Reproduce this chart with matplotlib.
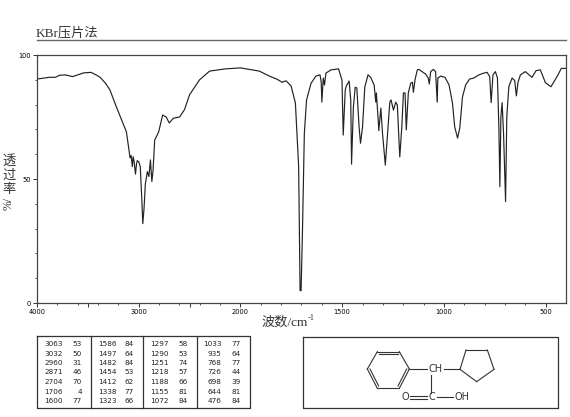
import numpy as np
import matplotlib
matplotlib.use('Agg')
from matplotlib import pyplot as plt

plt.rcParams['font.family'] = ['Liberation Serif', 'Noto Sans CJK SC', 'DejaVu Sans']

# spectrum
wn = [4000, 3950, 3880, 3820, 3780, 3725, 3650, 3600, 3540, 3470, 3420, 3380, 3330, 3284, 3219, 3170, 3121, 3100,
      3085, 3075, 3068, 3063, 3055, 3045, 3032, 3022, 3015, 3000, 2985, 2970, 2960, 2948, 2935, 2915, 2900, 2885,
      2875, 2871, 2860, 2843, 2804, 2765, 2730, 2700, 2660, 2598, 2550, 2500, 2402, 2304, 2150, 2000, 1907,
      1858, 1819, 1796, 1776, 1751, 1730, 1714, 1707, 1702, 1695, 1686, 1675, 1653, 1629, 1609, 1603, 1600, 1593,
      1587, 1580, 1555, 1518, 1501, 1495, 1485, 1480, 1466, 1458, 1454, 1445, 1436, 1428, 1417, 1410, 1400, 1389,
      1373, 1360, 1343, 1335, 1332, 1323, 1320, 1310, 1302, 1288, 1278, 1266, 1260, 1248, 1237, 1229, 1217, 1207,
      1199, 1191, 1185, 1175, 1163, 1155, 1150, 1142, 1131, 1123, 1090, 1077, 1072, 1065, 1052, 1041, 1033, 1030,
      1016, 995, 975, 958, 947, 933, 922, 909, 893, 874, 853, 828, 804, 788, 775, 768, 759, 747, 737, 730, 725,
      720, 714, 707, 697, 691, 681, 665, 652, 644, 636, 624, 600, 567, 547, 526, 501, 474, 444, 423, 403]
trans = [90.3, 90.6, 91, 91, 91.8, 92, 91.3, 92, 92.8, 93, 92, 91, 88.8, 86, 79, 74, 69, 63,
         58.5, 59.5, 57, 55, 59, 57, 52, 56, 57.4, 57, 55, 42, 32, 38, 48, 53, 51, 57.7,
         51, 49, 53, 65.7, 69, 75.8, 75, 72.6, 74.5, 75, 78, 84, 90, 93.5, 94.4, 94.8, 93.5,
         91.5, 90.2, 89, 89.6, 87.5, 80.6, 55, 5, 5, 30, 68.5, 81.9, 88.6, 91.5, 92, 89, 81, 90.7,
         87.9, 92.7, 94, 94.4, 89.9, 67.7, 85.9, 87.5, 89.5, 81.9, 56, 79, 87, 86.7, 71, 64.4, 71, 87,
         92, 91, 87.9, 81, 84.7, 73.8, 69.5, 78.6, 68.5, 55.6, 67, 81, 81.9, 77.8, 81, 79.8, 58.9, 71,
         84.7, 84.7, 69.8, 84.7, 88.7, 89, 85, 90, 94, 94.2, 92.3, 90.7, 88.3, 93.3, 94.2, 93.3, 81, 90.7,
         91.5, 91, 88, 80.6, 71, 66.5, 70.6, 83, 88, 90.3, 90.7, 92, 92.7, 93, 91.3, 80.8, 92, 93.3, 90.7, 71, 46.9,
         75, 80.8, 68.5, 40.9, 75, 87.2, 90.7, 89.7, 83.5, 89, 92, 93.3, 91, 93.7, 94, 88.8, 87.2, 91.3, 94.6, 94.6]

# peak table
col1_wn = [3063, 3032, 2960, 2871, 2704, 1706, 1600]
col1_t = [53, 50, 31, 46, 70, 4, 77]
col2_wn = [1586, 1497, 1482, 1454, 1412, 1338, 1323]
col2_t = [84, 64, 84, 53, 62, 77, 66]
col3_wn = [1297, 1290, 1251, 1218, 1188, 1155, 1072]
col3_t = [58, 53, 74, 57, 66, 81, 84]
col4_wn = [1033, 935, 768, 726, 698, 644, 476]
col4_t = [77, 64, 77, 44, 39, 81, 84]

x_labels = [4000, 3000, 2000, 1500, 1000, 500]
x_major = [4000, 3500, 3000, 2500, 2000, 1500, 1000, 500]
x_minor = list(range(3800, 2000, -200)) + list(range(1900, 400, -100))
y_labels = [0, 50, 100]
y_minor = [10, 20, 30, 40, 60, 70, 80, 90]


# chart is squeezed 2:1 above 2000 cm-1
def forward(x):
    x = np.asarray(x, dtype=float)
    return np.where(x > 2000, 2000 + (x - 2000) / 2, x)


def inverse(x):
    x = np.asarray(x, dtype=float)
    return np.where(x > 2000, 2000 + (x - 2000) * 2, x)


fig = plt.figure(figsize=(5.7, 4.17), dpi=100)
ax = fig.add_axes([37 / 570, 1 - 303 / 417, 529 / 570, 248 / 417])
ax.set_xscale('function', functions=(forward, inverse))
ax.plot(wn, trans, color='#222222', lw=0.85)
ax.set_xlim(4000, 400)
ax.set_ylim(0, 100)

ax.set_xticks(x_major)
ax.set_xticklabels([str(v) if v in x_labels else '' for v in x_major], family='DejaVu Sans', fontsize=4.8)
ax.set_xticks(x_minor, minor=True)
ax.set_yticks(y_labels)
ax.set_yticklabels([str(v) for v in y_labels], family='DejaVu Sans', fontsize=4.8)
ax.set_yticks(y_minor, minor=True)
ax.tick_params(axis='both', which='major', length=3, width=0.7, color='#333333', pad=1.5)
ax.tick_params(axis='both', which='minor', length=1.5, width=0.6, color='#333333')
for s in ax.spines.values():
    s.set_linewidth(0.9)
    s.set_color('#444444')

# overlay in pixel coords for title, labels, table and structure
ov = fig.add_axes([0, 0, 1, 1], facecolor='none')
ov.set_xlim(0, 570)
ov.set_ylim(417, 0)
ov.axis('off')

ov.text(36, 33, 'KBr压片法', fontsize=9.5, va='center', color='#333333')
ov.plot([37, 566], [39.5, 39.5], color='#666666', lw=1)
ov.text(262, 322, '波数/cm', fontsize=9.5, ha='left', va='center', color='#333333')
ov.text(308, 318, '-1', fontsize=6, ha='left', va='center', color='#333333')
for glyph, y in [('透', 161), ('过', 176), ('率', 190)]:
    ov.text(9, y, glyph, fontsize=9.5, ha='center', va='center', color='#333333')
ov.text(9, 203, '%/', fontsize=8.5, ha='center', va='center', rotation=90, color='#333333')

# peak table
ov.plot([37, 250, 250, 37, 37], [336, 336, 408, 408, 336], color='#333333', lw=0.9)
for x in [90.7, 143.3, 196.7]:
    ov.plot([x, x], [336, 408], color='#333333', lw=0.9)
table_cols = [(col1_wn, col1_t, 63, 82), (col2_wn, col2_t, 116.7, 134),
              (col3_wn, col3_t, 169, 188), (col4_wn, col4_t, 221.7, 240.7)]
for col_w, col_t, xw, xt in table_cols:
    for i in range(7):
        y = 344 + i * 9.5
        ov.text(xw, y, str(col_w[i]), family='DejaVu Sans', fontsize=5.2, ha='right', va='center', color='#222222')
        ov.text(xt, y, str(col_t[i]), family='DejaVu Sans', fontsize=5.2, ha='right', va='center', color='#222222')

# structure box
ov.plot([302.7, 558, 558, 302.7, 302.7], [336.7, 336.7, 408, 408, 336.7], color='#333333', lw=0.9)


def bond(x1, y1, x2, y2):
    # zoom crop coords to picture pixels
    ov.plot([290 + x1 / 3, 290 + x2 / 3], [320 + y1 / 3, 320 + y2 / 3], color='#333333', lw=0.8)


hexagon = [(262, 95), (328, 95), (358, 147), (328, 205), (262, 205), (232, 147), (262, 95)]
for a, b in zip(hexagon[:-1], hexagon[1:]):
    bond(a[0], a[1], b[0], b[1])
bond(266, 102, 324, 102)
bond(240, 147, 266, 198)
bond(324, 198, 350, 147)
bond(358, 147, 412, 147)
bond(462, 148, 510, 148)
pentagon = [(510, 148), (528, 90), (592, 90), (612, 148), (560, 185), (510, 148)]
for a, b in zip(pentagon[:-1], pentagon[1:]):
    bond(a[0], a[1], b[0], b[1])
bond(422, 165, 422, 218)
bond(360, 228, 410, 228)
bond(360, 236, 410, 236)
bond(440, 232, 488, 232)
for s, zx, zy in [('CH', 437, 148), ('C', 425, 232), ('O', 347, 232), ('OH', 516, 232)]:
    ov.text(290 + zx / 3, 320 + zy / 3, s, family='DejaVu Sans', fontsize=7, ha='center', va='center', color='#333333')

fig.savefig('out.png', dpi=100)
